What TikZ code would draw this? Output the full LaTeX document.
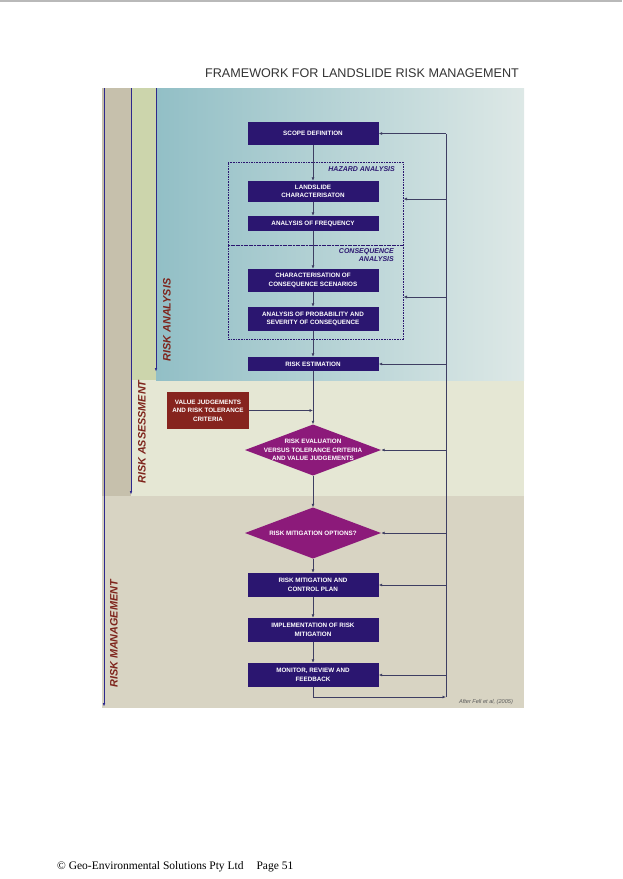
\documentclass[tikz,border=0pt]{standalone}
\usepackage{fontspec}
\setmainfont{Liberation Serif}
\newfontfamily\arialfont{Liberation Sans}
\usetikzlibrary{arrows.meta}

\definecolor{boxnavy}{RGB}{43,22,112}
\definecolor{boxmagenta}{RGB}{140,26,122}
\definecolor{boxred}{RGB}{134,36,30}
\definecolor{labelred}{RGB}{126,36,28}
\definecolor{flowline}{RGB}{62,62,98}
\definecolor{zoneline}{RGB}{45,40,140}
\definecolor{mgmtfill}{RGB}{216,212,195}
\definecolor{outerband}{RGB}{198,192,172}
\definecolor{assessfill}{RGB}{229,231,212}
\definecolor{assessband}{RGB}{204,213,172}
\definecolor{analysisleft}{RGB}{146,191,198}
\definecolor{analysisright}{RGB}{221,232,230}

\tikzset{stepbox/.style={rectangle, fill=boxnavy, text=white, minimum width=131pt, inner sep=0pt, align=center, font=\arialfont\bfseries\fontsize{6.3}{8.6}\selectfont}}
\tikzset{decision/.style={rectangle, minimum width=136pt, minimum height=51pt, inner sep=0pt, align=center, text=white, font=\arialfont\bfseries\fontsize{6.3}{8.4}\selectfont,
  path picture={\fill[boxmagenta] (path picture bounding box.north) -- (path picture bounding box.east) -- (path picture bounding box.south) -- (path picture bounding box.west) -- cycle;}}}
\tikzset{redbox/.style={rectangle, fill=boxred, text=white, minimum width=82pt, minimum height=37pt, inner sep=0pt, align=center, font=\arialfont\bfseries\fontsize{6.3}{8.4}\selectfont}}
\tikzset{dashbox/.style={rectangle, draw=boxnavy, dash pattern=on 1.6pt off 1pt, line width=1pt, minimum width=175pt, inner sep=0pt}}
\tikzset{boxlabel/.style={text=boxnavy, align=right, inner sep=0pt, font=\arialfont\bfseries\itshape\fontsize{7}{8.6}\selectfont}}
\tikzset{zonelabel/.style={rotate=90, text=labelred, inner sep=0pt, font=\arialfont\bfseries\itshape\fontsize{10.8}{12}\selectfont}}
\tikzset{flow/.style={draw=flowline, line width=0.9pt, -{Latex[length=3.5pt,width=3pt]}}}
\tikzset{plainflow/.style={draw=flowline, line width=0.9pt}}
\tikzset{zoneedge/.style={draw=zoneline, line width=1pt, -{Latex[length=4pt,width=2.5pt]}}}

\begin{document}
\begin{tikzpicture}[x=1pt, y=-1pt]
  \useasboundingbox (0,0) rectangle (622,879);
  \draw[gray!55, line width=1.5pt] (0,0.75) -- (622,0.75);

  % background zones
  \fill[mgmtfill] (102,88) rectangle (524,708);
  \fill[outerband] (102,88) rectangle (131,496);
  \fill[assessfill] (131,88) rectangle (524,496);
  \fill[assessband] (131,88) rectangle (156,380);
  \shade[left color=analysisleft, right color=analysisright] (156,88) rectangle (524,380);
  \draw[zoneedge] (104,88) -- (104,707);
  \draw[zoneedge] (131,88) -- (131,495);
  \draw[zoneedge] (156,88) -- (156,372);

  \node[text=black!80, inner sep=0pt, font=\arialfont\fontsize{12.6}{15}\selectfont] (title) at (362,73) {FRAMEWORK FOR LANDSLIDE RISK MANAGEMENT};

  \node[zonelabel] (analysis) at (167,320) {RISK ANALYSIS};
  \node[zonelabel] (assessment) at (142,432) {RISK ASSESSMENT};
  \node[zonelabel] (management) at (114,634) {RISK MANAGEMENT};

  \node[dashbox, minimum height=83pt] (hazbox) at (315.5,203.5) {};
  \node[dashbox, minimum height=94pt] (consbox) at (315.5,292) {};
  \node[boxlabel, anchor=north east] (hazlabel) at (395,166) {HAZARD ANALYSIS};
  \node[boxlabel, anchor=north east] (conslabel) at (394,248) {CONSEQUENCE\\ANALYSIS};

  \node[stepbox, minimum height=23pt] (scope) at (313,133.5) {SCOPE DEFINITION};
  \node[stepbox, minimum height=21pt, node distance=58pt, below of=scope] (land) {LANDSLIDE\\CHARACTERISATON};
  \node[stepbox, minimum height=15pt, node distance=32pt, below of=land] (freq) {ANALYSIS OF FREQUENCY};
  \node[stepbox, minimum height=23pt, node distance=57pt, below of=freq] (char) {CHARACTERISATION OF\\CONSEQUENCE SCENARIOS};
  \node[stepbox, minimum height=24pt, node distance=38.5pt, below of=char] (prob) {ANALYSIS OF PROBABILITY AND\\SEVERITY OF CONSEQUENCE};
  \node[stepbox, minimum height=14pt, node distance=45pt, below of=prob] (est) {RISK ESTIMATION};
  \node[decision, node distance=86pt, below of=est] (eval) {RISK EVALUATION\\VERSUS TOLERANCE CRITERIA\\AND VALUE JUDGEMENTS};
  \node[decision, node distance=83pt, below of=eval] (opt) {RISK MITIGATION OPTIONS?};
  \node[stepbox, minimum height=24pt, node distance=52pt, below of=opt] (plan) {RISK MITIGATION AND\\CONTROL PLAN};
  \node[stepbox, minimum height=24pt, node distance=45pt, below of=plan] (impl) {IMPLEMENTATION OF RISK\\MITIGATION};
  \node[stepbox, minimum height=24pt, node distance=45pt, below of=impl] (mon) {MONITOR, REVIEW AND\\FEEDBACK};

  \node[redbox] (values) at (208,410.5) {VALUE JUDGEMENTS\\AND RISK TOLERANCE\\CRITERIA};

  \node[text=black!65, inner sep=0pt, font=\arialfont\itshape\fontsize{5.6}{7}\selectfont] (source) at (486,702) {After Fell et al, (2005)};
  \node[anchor=base west, inner sep=0pt, font=\fontsize{11.5}{13}\selectfont] (footer) at (57,869) {© Geo-Environmental Solutions Pty Ltd\hspace{13pt}Page 51};

  % main flow
  \draw[flow] (scope) -- (land);
  \draw[flow] (land) -- (freq);
  \draw[flow] (freq) -- (char);
  \draw[flow] (char) -- (prob);
  \draw[flow] (prob) -- (est);
  \draw[flow] (est) -- (eval);
  \draw[flow] (eval) -- (opt);
  \draw[flow] (opt) -- (plan);
  \draw[flow] (plan) -- (impl);
  \draw[flow] (impl) -- (mon);

  \coordinate (join) at (values.east -| est.south);
  \draw[flow] (values.east) -- (join);

  % feedback loop
  \coordinate (fbbottom) at (446,697);
  \coordinate (hazentry) at ([yshift=4.5pt]hazbox.east);
  \coordinate (consentry) at ([yshift=-5pt]consbox.east);
  \draw[flow] (mon.south) |- (fbbottom);
  \draw[plainflow] (fbbottom) -- (fbbottom |- scope.east);
  \draw[flow] (fbbottom |- scope.east) -- (scope.east);
  \draw[flow] (fbbottom |- hazentry) -- (hazentry);
  \draw[flow] (fbbottom |- consentry) -- (consentry);
  \draw[flow] (fbbottom |- est.east) -- (est.east);
  \draw[flow] (fbbottom |- eval.east) -- (eval.east);
  \draw[flow] (fbbottom |- opt.east) -- (opt.east);
  \draw[flow] (fbbottom |- plan.east) -- (plan.east);
  \draw[flow] (fbbottom |- mon.east) -- (mon.east);
\end{tikzpicture}
\end{document}
